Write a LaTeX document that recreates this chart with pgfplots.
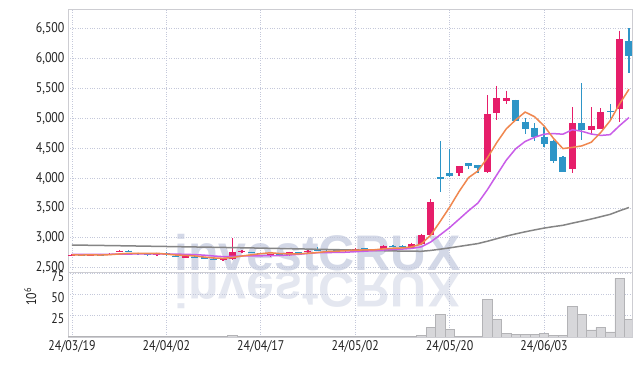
\documentclass[border=0pt]{standalone}
\usepackage{pgfplots}
\usepackage{pgfplotstable}
\pgfplotsset{compat=1.18}
\usepackage{fontspec}
\setmainfont{PT Sans}[FakeStretch=0.85]
\newfontfamily\wmfont{Liberation Sans}
\definecolor{upc}{HTML}{E61E6A}
\definecolor{dnc}{HTML}{2E95C7}
\definecolor{ma5}{HTML}{F0874F}
\definecolor{ma10}{HTML}{C95DE8}
\definecolor{ma60}{HTML}{858585}
\definecolor{gridc}{HTML}{C4C8DA}
\definecolor{bordc}{HTML}{CDCDD2}
\definecolor{volf}{HTML}{D7D7DA}
\definecolor{vold}{HTML}{B3B3B6}
\definecolor{wm}{HTML}{D3D8E7}
\definecolor{wmr}{HTML}{E4E7F0}
\definecolor{txt}{HTML}{222222}

\pgfplotstableread{
i o h l c
0 2700 2725 2695 2720
2 2705 2725 2700 2720
4 2715 2740 2710 2735
5 2768 2800 2755 2780
9 2705 2745 2690 2740
12 2665 2700 2660 2695
16 2622 2660 2610 2650
17 2640 2990 2630 2765
18 2755 2795 2745 2780
21 2690 2735 2680 2725
23 2705 2770 2700 2760
25 2755 2790 2750 2780
29 2775 2800 2770 2790
30 2795 2830 2790 2820
33 2810 2880 2805 2865
36 2830 2920 2825 2890
37 2890 3070 2880 3045
38 3050 3650 3040 3600
41 4080 4205 4035 4200
44 4110 5390 4080 5075
45 5085 5545 4975 5335
46 5300 5465 5235 5340
53 4150 5190 4080 4920
55 4810 5190 4725 4875
56 4830 5170 4820 5100
58 5155 6470 4945 6325
}\upcandles

\pgfplotstableread{
i o h l c
1 2715 2720 2700 2705
3 2720 2735 2700 2710
6 2785 2795 2755 2760
7 2738 2745 2720 2725
8 2730 2735 2700 2705
10 2740 2760 2700 2710
11 2700 2705 2675 2680
13 2685 2690 2655 2660
14 2675 2680 2640 2645
15 2650 2655 2630 2635
19 2762 2770 2745 2750
20 2745 2750 2725 2730
22 2735 2740 2695 2700
24 2758 2765 2740 2745
26 2795 2850 2775 2780
27 2805 2810 2785 2790
28 2798 2800 2780 2785
31 2822 2830 2800 2805
32 2808 2815 2790 2795
34 2868 2875 2840 2845
35 2868 2875 2835 2845
39 4020 4620 3760 3990
40 4080 4490 4020 4040
42 4250 4255 4150 4210
43 4220 4225 4080 4165
47 5310 5315 4960 4965
48 4945 5000 4745 4820
49 4845 4920 4625 4685
50 4695 4860 4515 4570
51 4620 4640 4250 4290
52 4360 4365 4100 4110
54 4920 5590 4640 4810
57 5125 5240 4980 5100
59 6300 6510 5755 6045
}\dncandles

\pgfplotstableread{
i v
0 0.4
1 0.3
2 0.4
3 0.3
4 0.4
5 0.5
6 0.4
7 0.3
8 0.3
9 0.4
10 0.3
11 0.3
12 0.3
13 0.3
14 0.3
15 0.3
16 0.4
17 2
18 0.6
19 0.3
20 0.3
21 0.3
22 0.3
23 0.4
24 0.3
25 0.4
26 0.5
27 0.3
28 0.3
29 0.3
30 0.4
31 0.3
32 0.3
33 0.5
34 0.3
35 0.3
36 0.6
37 2
38 11.5
39 27
40 9
41 1
42 1
43 1
44 45
45 21
46 4.7
47 3.5
48 3.5
49 3.5
50 4.5
51 2
52 2
53 36
54 27
55 8.3
56 11.5
57 6
58 69.5
59 21
}\vol

\begin{document}
\begin{tikzpicture}[x=1pt,y=1pt]
\useasboundingbox (0,0) rectangle (642,366);
\fill[white] (0,0) rectangle (642,366);
% watermark
\node[anchor=base west, inner sep=0, text=wm, font=\wmfont\bfseries\fontsize{50}{50}\selectfont] at (174,95) {investCRUX};
\begin{scope}[shift={(174,93)}, yscale=-1]
\node[anchor=base west, inner sep=0, transform shape, text=wmr, font=\wmfont\bfseries\fontsize{50}{50}\selectfont] at (0,0) {investCRUX};
\end{scope}

\pgfplotsset{
  common/.style={
    scale only axis, width=564pt,
    xmin=-0.42, xmax=59.32,
    xtick={0,10,20,30,40,50},
    major tick length=0pt,
    grid=major,
    major grid style={dotted, gridc, line width=0.8pt},
    axis line style={bordc, line width=0.9pt},
    tick label style={font=\fontsize{14}{14}\selectfont, text=txt},
    /pgf/number format/assume math mode=true,
    /pgf/number format/1000 sep={,},
  },
  cdl/.style n args={2}{draw=none, mark=none, forget plot,
    error bars/.cd, y dir=minus, y explicit, error mark=none,
    error bar style={line width=#1, draw=#2, solid}},
}

\begin{axis}[common,
  at={(68pt,94pt)}, anchor=south west, height=263pt,
  ymin=2428, ymax=6833,
  ytick={2500,3000,...,6500},
  xticklabel=\empty,
  clip=true,
]
% wicks
\addplot[cdl={1.2pt}{upc}]
  table[x=i, y=h, y error minus expr=\thisrow{h}-\thisrow{l}] {\upcandles};
\addplot[cdl={1.2pt}{dnc}]
  table[x=i, y=h, y error minus expr=\thisrow{h}-\thisrow{l}] {\dncandles};
% bodies
\addplot[cdl={7pt}{upc}]
  table[x=i, y=c, y error minus expr=\thisrow{c}-\thisrow{o}] {\upcandles};
\addplot[cdl={7pt}{dnc}]
  table[x=i, y=o, y error minus expr=\thisrow{o}-\thisrow{c}] {\dncandles};
% 60-day
\addplot[ma60, line width=1.5pt, mark=none] coordinates {
(0,2880) (5,2868) (10,2855) (15,2842) (20,2828) (25,2812) (30,2795) (33,2784) (35,2778) (37,2775)
(38,2789) (39,2810) (40,2832) (41,2856) (42,2880) (43,2904) (44,2943) (45,2986) (46,3029) (47,3066)
(48,3101) (49,3133) (50,3163) (51,3188) (52,3210) (53,3246) (54,3280) (55,3315) (56,3354) (57,3393)
(58,3453) (59,3508)};
% 10-day
\addplot[ma10, line width=1.5pt, mark=none] coordinates {
(0,2722) (1,2722) (2,2723) (3,2724) (4,2725) (5,2727) (6,2729) (7,2730) (8,2730) (9,2730)
(10,2729) (11,2727) (12,2724) (13,2719) (14,2710) (15,2696) (16,2685) (17,2689) (18,2696) (19,2697)
(20,2699) (21,2704) (22,2704) (23,2714) (24,2724) (25,2739) (26,2752) (27,2754) (28,2755) (29,2759)
(30,2768) (31,2776) (32,2785) (33,2796) (34,2806) (35,2812) (36,2823) (37,2849) (38,2930) (39,3050)
(40,3172) (41,3312) (42,3453) (43,3583) (44,3806) (45,4055) (46,4300) (47,4492) (48,4614) (49,4684)
(50,4737) (51,4746) (52,4736) (53,4811) (54,4785) (55,4739) (56,4715) (57,4728) (58,4879) (59,5015)};
% 5-day
\addplot[ma5, line width=1.5pt, mark=none] coordinates {
(0,2715) (1,2712) (2,2715) (3,2712) (4,2718) (5,2730) (6,2741) (7,2742) (8,2741) (9,2742)
(10,2728) (11,2712) (12,2706) (13,2697) (14,2678) (15,2663) (16,2657) (17,2671) (18,2695) (19,2716)
(20,2735) (21,2750) (22,2737) (23,2733) (24,2732) (25,2742) (26,2753) (27,2771) (28,2776) (29,2785)
(30,2793) (31,2798) (32,2799) (33,2815) (34,2826) (35,2831) (36,2848) (37,2898) (38,3045) (39,3274)
(40,3513) (41,3775) (42,4008) (43,4121) (44,4338) (45,4597) (46,4825) (47,4976) (48,5107) (49,5029)
(50,4876) (51,4666) (52,4495) (53,4515) (54,4540) (55,4601) (56,4763) (57,4961) (58,5242) (59,5489)};
\end{axis}

\begin{axis}[common,
  at={(68pt,29pt)}, anchor=south west, height=65pt,
  ymin=0, ymax=77,
  ytick={25,50,75},
  yticklabel style={yshift=-2.5pt},
  xticklabels={24/03/19,24/04/02,24/04/17,24/05/02,24/05/20,24/06/03},
  ylabel={10\textsuperscript{6}},
  ylabel style={at={(axis description cs:-0.067,0.62)}, anchor=center, font=\fontsize{14}{14}\selectfont, text=txt},
]
\addplot[ybar, bar width=1, bar shift=0pt, fill=volf, draw=vold, line width=0.6pt] table[x=i, y=v] {\vol};
\end{axis}
\end{tikzpicture}
\end{document}
